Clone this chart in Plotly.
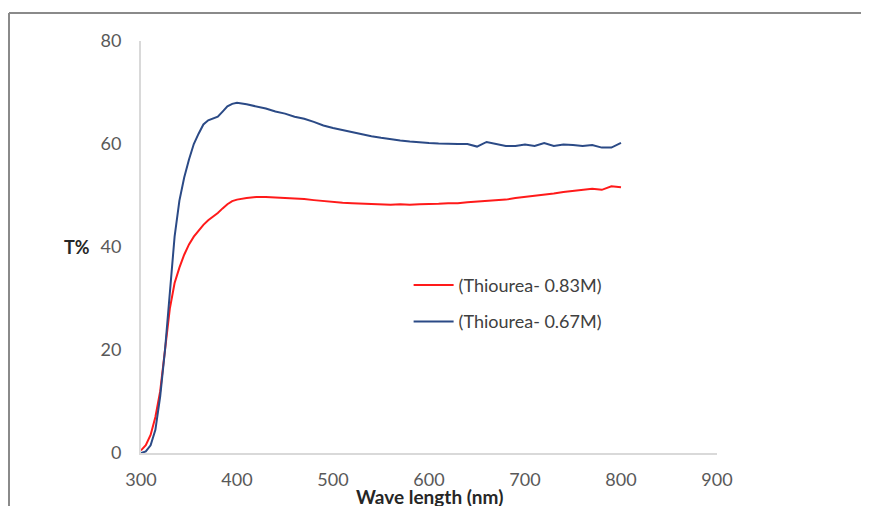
import plotly.graph_objects as go

wavelength = [300, 305, 310, 315, 320, 325, 330, 335, 340, 345, 350, 355, 360, 365, 370, 375, 380, 385, 390, 395,
              400, 410, 420, 430, 440, 450, 460, 470, 480, 490, 500, 510, 520, 530, 540, 550, 560, 570, 580, 590,
              600, 610, 620, 630, 640, 650, 660, 670, 680, 690, 700, 710, 720, 730, 740, 750, 760, 770, 780, 790, 800]

t_083 = [0.5, 1.5, 3.5, 7, 12, 20, 28, 33, 36, 38.5, 40.5, 42, 43.2, 44.3, 45.2, 45.9, 46.6, 47.5, 48.3, 48.9,
         49.2, 49.5, 49.7, 49.7, 49.6, 49.6, 49.5, 49.3, 49.1, 48.9, 48.7, 48.6, 48.5, 48.4, 48.3, 48.2, 48.2, 48.3, 48.2, 48.3,
         48.3, 48.4, 48.5, 48.5, 48.7, 48.8, 49.0, 49.1, 49.2, 49.5, 49.7, 50.0, 50.2, 50.4, 50.7, 50.9, 51.0, 51.3, 51.1, 51.8, 51.6]

t_067 = [0, 0.3, 1.5, 4.5, 11, 20, 31, 42, 49, 53.5, 57, 60, 62, 63.8, 64.6, 65, 65.3, 66.3, 67.3, 67.8,
         68, 67.7, 67.3, 66.9, 66.3, 65.9, 65.3, 64.9, 64.3, 63.6, 63.1, 62.7, 62.2, 61.9, 61.5, 61.2, 60.9, 60.7, 60.5, 60.3,
         60.2, 60.1, 60.0, 60.0, 60.0, 59.5, 60.4, 60.0, 59.6, 59.6, 59.9, 59.6, 60.2, 59.6, 59.9, 59.8, 59.6, 59.8, 59.3, 59.3, 60.2]

series_names = ["(Thiourea- 0.83M)", "(Thiourea- 0.67M)"]
x_ticks = [300, 400, 500, 600, 700, 800, 900]
y_ticks = [0, 20, 40, 60, 80]

FONT = "Lato, 'Open Sans', sans-serif"

fig = go.Figure()
fig.add_trace(go.Scatter(x=wavelength, y=t_083, mode="lines", name=series_names[0], legendgroup="a",
                         line=dict(color="#FF1A1A", width=2)))
fig.add_trace(go.Scatter(x=wavelength, y=t_067, mode="lines", name=series_names[1], legendgroup="b",
                         line=dict(color="#2B4A86", width=2)))

fig.update_layout(
    width=869, height=506,
    margin=dict(l=133, r=160, t=33, b=61),
    paper_bgcolor="white", plot_bgcolor="white",
    font=dict(family=FONT, size=18, color="#595959"),
    showlegend=True,
    legend=dict(x=0.4646, y=0.452, xanchor="left", yanchor="top",
                font=dict(family=FONT, size=18, color="#404040"),
                bgcolor="rgba(0,0,0,0)", tracegroupgap=10, itemwidth=40),
    xaxis=dict(range=[300, 900], tickvals=x_ticks, showgrid=False, zeroline=False,
               showline=True, linecolor="#d9d9d9", linewidth=1.5, ticks="",
               ticklabelstandoff=10, automargin=False),
    yaxis=dict(range=[0, 80], tickvals=y_ticks, showgrid=False, zeroline=False,
               showline=True, linecolor="#d9d9d9", linewidth=2, ticks="",
               ticklabelstandoff=14, automargin=False),
    annotations=[
        dict(text="<b>T%</b>", xref="paper", yref="paper", x=-0.085, y=0.5,
             xanchor="right", yanchor="middle", showarrow=False,
             font=dict(family=FONT, size=18, color="#262626")),
        dict(text="<b>Wave length (nm)</b>", xref="paper", yref="paper", x=0.5, y=(453 - 496) / 412,
             xanchor="center", yanchor="middle", showarrow=False,
             font=dict(family=FONT, size=19, color="#262626")),
    ],
    shapes=[
        dict(type="line", xref="paper", yref="paper", x0=(9 - 141) / 576, x1=2.0,
             y0=(453 - 13) / 412, y1=(453 - 13) / 412, line=dict(color="#8a8a8a", width=2)),
        dict(type="line", xref="paper", yref="paper", x0=(9 - 141) / 576, x1=(9 - 141) / 576,
             y0=(453 - 13) / 412, y1=-0.5, line=dict(color="#8a8a8a", width=2)),
    ],
)

fig.write_html("out.html")
